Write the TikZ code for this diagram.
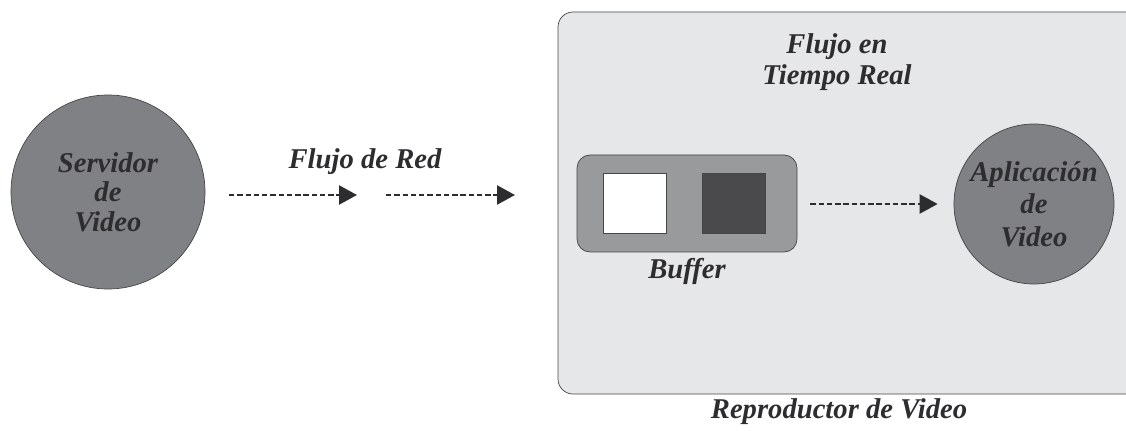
\documentclass[tikz,border=0pt]{standalone}
\usepackage{fontspec}
\setmainfont{Liberation Serif}
\usetikzlibrary{arrows.meta, positioning}

\definecolor{nodegray}{RGB}{128,129,132}
\definecolor{bufgray}{RGB}{153,154,156}
\definecolor{darkcell}{RGB}{74,74,77}
\definecolor{panel}{RGB}{230,231,232}
\definecolor{inkgray}{RGB}{45,45,47}
\definecolor{edgegray}{RGB}{70,70,72}

\begin{document}
\begin{tikzpicture}[main/.style = {draw = edgegray, circle, fill = nodegray, text = inkgray, align = center, font = \fontsize{16.3}{16.8}\selectfont\bfseries\itshape},
        lbl/.style = {text = inkgray, align = center, font = \fontsize{16.3}{16.8}\selectfont\bfseries\itshape},
        cell/.style = {draw = edgegray, minimum width = 1.26cm, minimum height = 1.2cm, inner sep = 0pt},
        flow/.style = {draw = inkgray, line width = 1.35pt, dash pattern = on 3.1pt off 1.6pt, -{Triangle[length = 0.36cm, width = 0.38cm]}}]
        \useasboundingbox (0, 0) rectangle (22.52, 8.6);

        \draw [draw = edgegray, fill = panel, rounded corners = 0.3cm] (11.16, 0.72) rectangle (22.9, 8.36);
        \node [lbl] (player) at (16.78, 0.36) {Reproductor de Video};
        \node [lbl] (rt) at (16.74, 7.36) {Flujo en\\[1pt]Tiempo Real};

        \node [main, minimum size = 3.88cm] (server) at (2.16, 4.76) {Servidor\\de\\Video};
        \node [main, minimum size = 3.2cm, inner sep = 0pt, font = \fontsize{16.3}{18.6}\selectfont\bfseries\itshape] (app) at (20.68, 4.52) {Aplicación\\de\\Video};

        \node [draw = edgegray, fill = bufgray, rounded corners = 0.26cm, minimum width = 4.4cm, minimum height = 1.94cm] (buffer) at (13.74, 4.53) {};
        \node [cell, fill = white] (c1) at (12.69, 4.54) {};
        \node [cell, fill = darkcell] (c2) at (14.68, 4.54) {};
        \node [lbl, below = 0pt of buffer] (bl) {Buffer};

        \coordinate (a1s) at (4.58, 4.70);
        \coordinate (a1e) at (7.14, 4.70);
        \coordinate (a2s) at (7.72, 4.70);
        \coordinate (a2e) at (10.30, 4.70);
        \node [lbl] (net) at (7.30, 5.36) {Flujo de Red};

        \draw [flow] (a1s) -- (a1e);
        \draw [flow] (a2s) -- (a2e);
        \draw [flow, shorten < = 0.26cm, shorten > = 0.32cm] (buffer.east |- app.west) -- (app.west);
\end{tikzpicture}
\end{document}
